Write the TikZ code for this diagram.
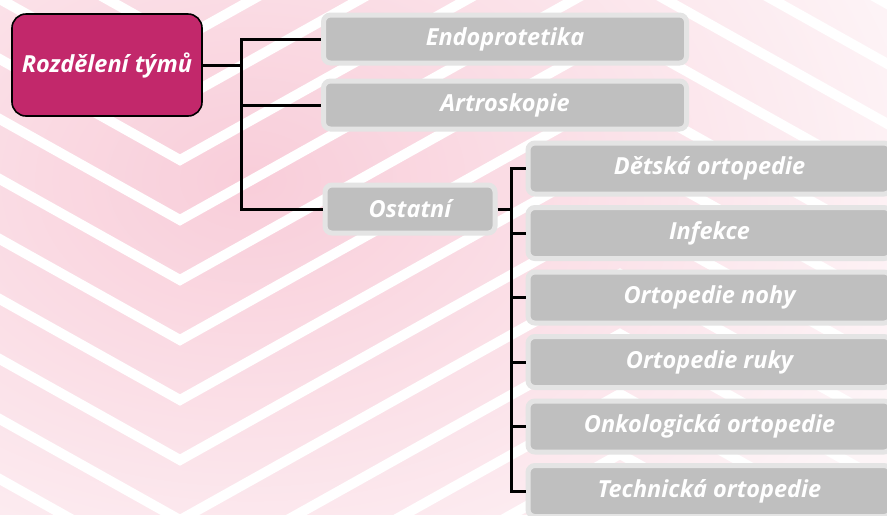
\documentclass[tikz,border=0pt]{standalone}
\usepackage{fontspec}
\setmainfont{Open Sans}
\usetikzlibrary{positioning, fadings}
\definecolor{rootfill}{HTML}{C2286B}
\definecolor{boxfill}{HTML}{BFBFBF}
\definecolor{boxstroke}{HTML}{E4E4E4}
\definecolor{bgpink}{HTML}{F9CEDA}
\tikzfading[name=bgfade, inner color=transparent!100, outer color=transparent!20]

\begin{document}
\begin{tikzpicture}[x=1pt, y=-1pt,
    % 1. Kořenový box
    rootbox/.style={
        rectangle,
        rounded corners=14pt,
        draw=black,
        line width=1.6pt,
        fill=rootfill,
        text=white,
        minimum width=190pt,
        minimum height=102pt,
        font=\bfseries\itshape\fontsize{23.5}{28}\selectfont
    },
    % 2. Šedé boxy týmů
    teambox/.style={
        rectangle,
        rounded corners=7pt,
        draw=boxstroke,
        line width=5pt,
        fill=boxfill,
        text=white,
        inner sep=0pt,
        minimum width=363pt,
        minimum height=48pt,
        font=\bfseries\itshape\fontsize{23.5}{28}\selectfont
    },
    smallbox/.style={teambox, minimum width=170pt},
    subbox/.style={teambox, minimum height=51pt},
    % 3. Spojnice
    link/.style={draw=black, line width=3pt}
]

% === POZADÍ (růžové šipky) ===
\clip (0,0) rectangle (887,515);
\fill[bgpink] (0,0) rectangle (887,515);
\foreach \c in {-20,40,...,880}
    \draw[white, line width=10pt] (-420,\c-336) -- (180,\c) -- (620,\c-246) -- (1100,\c+23);
\fill[white, path fading=bgfade] (-450,-320) rectangle (950,680);

% === KOŘEN ===
\node[rootbox] (o0) at (107,65) {Rozdělení týmů};

% === PRVNÍ ÚROVEŇ ===

% Endoprotetika
\node[teambox] (o1) at (505,39) {Endoprotetika};

% Artroskopie
\node[teambox, below=13pt of o1] (o2) {Artroskopie};

% Ostatní
\node[smallbox] (o3) at (410,209) {Ostatní};

% === DRUHÁ ÚROVEŇ (pod Ostatní) ===
\node[subbox] (p1) at (709.5,168.5) {Dětská ortopedie};
\node[subbox, below=8.5pt of p1] (p2) {Infekce};
\node[subbox, below=8.5pt of p2] (p3) {Ortopedie nohy};
\node[subbox, below=8.5pt of p3] (p4) {Ortopedie ruky};
\node[subbox, below=8.5pt of p4] (p5) {Onkologická ortopedie};
\node[subbox, below=8.5pt of p5] (p6) {Technická ortopedie};

% === SPOJNICE ===
\draw[link] (o0.east) -- ++(39,0) coordinate (k1);
\draw[link] (k1) |- (o1.west);
\draw[link] (k1) |- (o2.west);
\draw[link] (k1) |- (o3.west);

\draw[link] (o3.east) -- ++(13.5,0) coordinate (k2);
\foreach \i in {1,...,6}
    \draw[link] (k2) |- (p\i.west);

\end{tikzpicture}
\end{document}
